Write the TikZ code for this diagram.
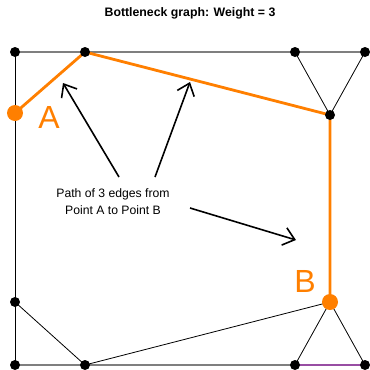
\documentclass[tikz,border=0pt]{standalone}
\usepackage{fontspec}
\setmainfont{Liberation Sans}
\usetikzlibrary{arrows.meta, backgrounds}
\definecolor{pathorange}{HTML}{FF7F00}
\definecolor{bnpurple}{HTML}{984EA3}
\definecolor{rimgray}{HTML}{7F7F7F}

\tikzset{
  dot/.style={circle, fill=black, inner sep=0pt, minimum size=10pt},
  endpt/.style={circle, fill=pathorange, inner sep=0pt, minimum size=16pt},
  edge/.style={black, line width=0.8pt},
  rim/.style={rimgray, line width=1.2pt},
  route/.style={pathorange, line width=2.8pt, line join=round},
  pointer/.style={black, line width=1.6pt, -{Straight Barb[length=11pt, width=18pt, line width=1.6pt]}}
}

\begin{document}
\begin{tikzpicture}[x=1pt, y=-1pt]

% Frame
\useasboundingbox (0,0) rectangle (370,370);

% Title
\node[font=\bfseries\fontsize{12.3}{14}\selectfont] (title) at (190,13) {Bottleneck graph: Weight = 3};

% Top row
\node[dot] (t1) at (15,52) {};
\node[dot] (t2) at (85,52) {};
\node[dot] (t3) at (295,52) {};
\node[dot] (t4) at (365,52) {};
\node[dot] (tv) at (330,115) {};

% Bottom row
\node[dot] (l1) at (15,302) {};
\node[dot] (b1) at (15,365) {};
\node[dot] (b2) at (85,365) {};
\node[dot] (b3) at (295,365) {};
\node[dot] (b4) at (365,365) {};

% Endpoints A and B
\node[endpt] (ptA) at (15,113) {};
\node[endpt] (ptB) at (330,302) {};
\node[text=pathorange, font=\fontsize{32}{34}\selectfont] (labA) at (49,117) {A};
\node[text=pathorange, font=\fontsize{32}{34}\selectfont] (labB) at (305,281) {B};

% Edges
\begin{scope}[on background layer]
  \draw[rim] (t1.center) -- (t4.center);
  \draw[rim] (b1.center) -- (b3.center);
  \draw[edge] (t1.center) -- (b1.center);
  \draw[edge] (t3.center) -- (tv.center) -- (t4.center);
  \draw[edge] (b3.center) -- (ptB.center) -- (b4.center);
  \draw[edge] (l1.center) -- (b2.center) -- (ptB.center);
  \draw[bnpurple, line width=2.8pt] (b3.center) -- (b4.center);
  \draw[route] (ptA.center) -- (t2.center) -- (tv.center) -- (ptB.center);
\end{scope}

% Caption and pointers
\node[align=center, font=\fontsize{12.2}{17}\selectfont] (lbl) at (113,202) {Path of 3 edges from\\Point A to Point B};
\coordinate (s1) at (119,177);
\coordinate (s2) at (155,177);
\coordinate (s3) at (190,208);
\coordinate (h1) at (63,83);
\coordinate (h2) at (190,82);
\coordinate (h3) at (296,240);
\draw[pointer] (s1) -- (h1);
\draw[pointer] (s2) -- (h2);
\draw[pointer] (s3) -- (h3);

\end{tikzpicture}
\end{document}
